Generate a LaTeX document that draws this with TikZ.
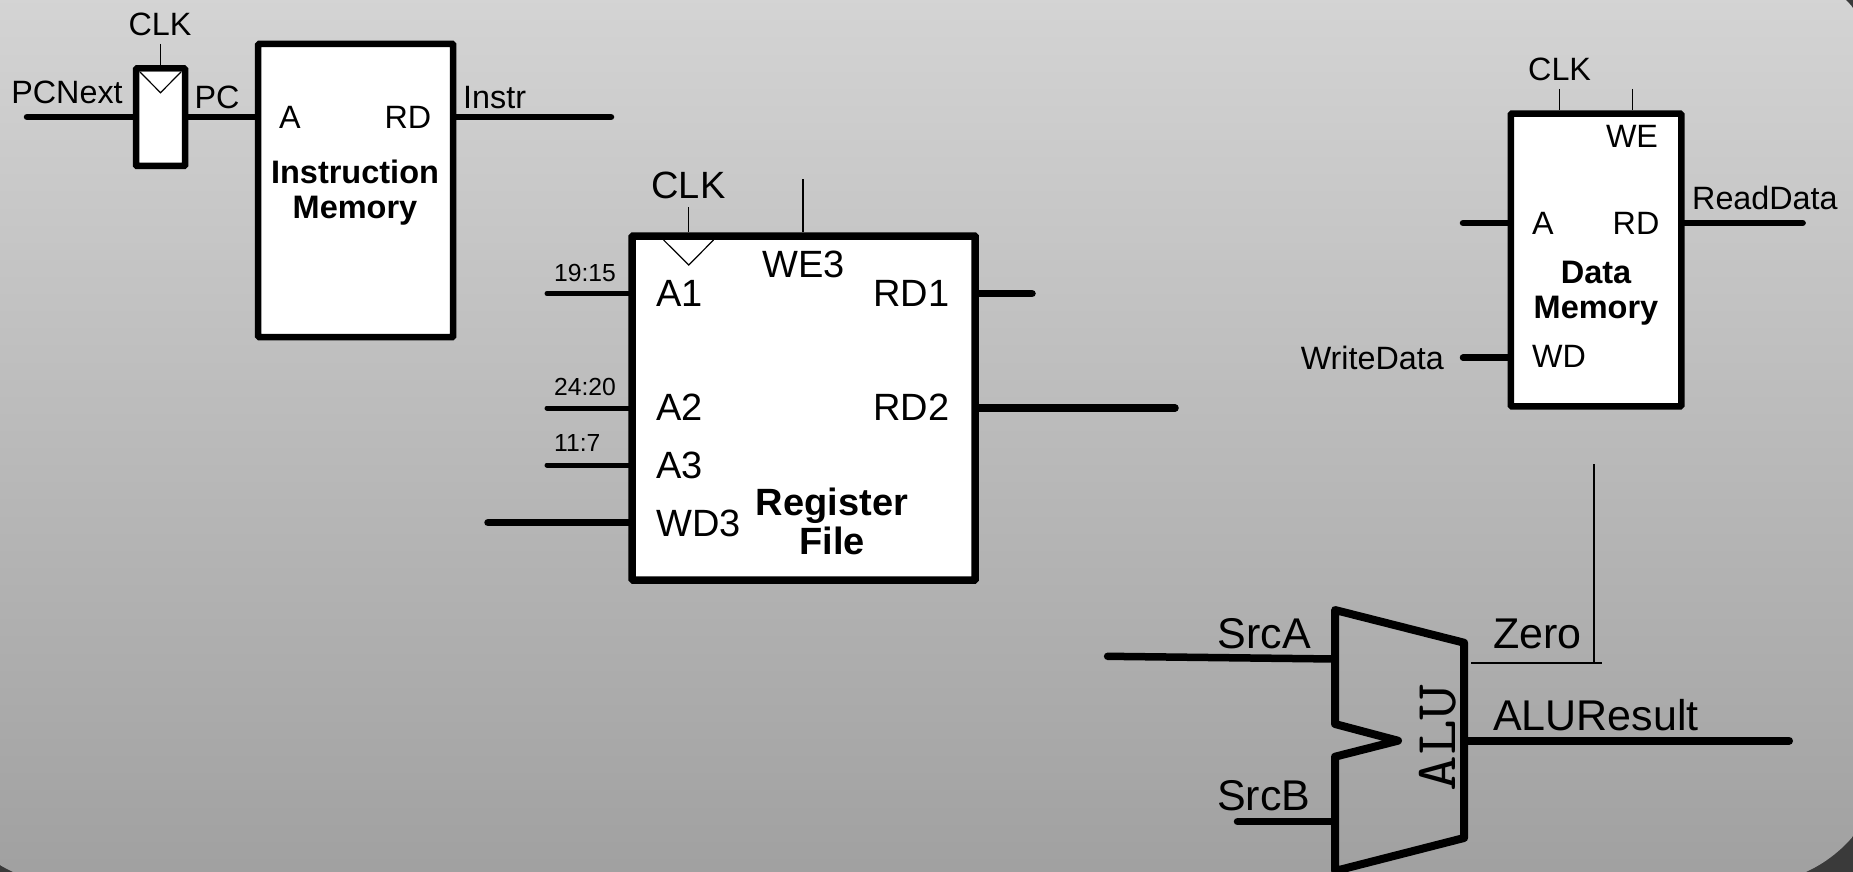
\documentclass[tikz,border=0pt]{standalone}
\usepackage{fontspec}
\setmainfont{Liberation Sans}
\usepackage{xcolor}
\usepackage{tikz}
\usetikzlibrary{positioning,calc}
\definecolor{fundoTopo}{HTML}{D6D6D6}
\definecolor{fundoBase}{HTML}{A0A0A0}
\definecolor{fundoCanto}{HTML}{3A3A3A}
\tikzset{
    bloco/.style={
        rectangle,
        draw=black,
        fill=white,
        line width=6.5pt,
        rounded corners=1pt,
        inner sep=0pt
    },
    rotulo/.style={inner sep=0pt, font=\fontsize{32.3}{35}\selectfont, align=center},
    rotuloGrande/.style={rotulo, font=\fontsize{38}{38}\selectfont},
    rotuloAlu/.style={rotulo, font=\fontsize{43}{44}\selectfont},
    rotuloPequeno/.style={rotulo, font=\fontsize{24.7}{26}\selectfont},
    titulo/.style={rotulo, font=\fontsize{32.5}{35}\selectfont\bfseries},
    tituloGrande/.style={rotulo, font=\fontsize{38}{39}\selectfont\bfseries},
    barramento/.style={line width=6.5pt, line cap=round},
    barramentoFino/.style={line width=5pt, line cap=round},
    barramentoGrosso/.style={line width=7.5pt, line cap=round},
    fio/.style={line width=1.2pt},
    relogio/.style={line width=1.2pt, fill=white}
}

\begin{document}
\begin{tikzpicture}[x=1pt, y=-1pt]
    \useasboundingbox (0,0) rectangle (1853,872);
    \fill[fundoCanto] (0,0) rectangle (1853,872);
    \shade[top color=fundoTopo, bottom color=fundoBase, rounded corners=135pt]
        (-66,-40) rectangle (1885,884);

    % caminho do PC
    \node[bloco, minimum width=49pt, minimum height=97.5pt] (pcreg) at (160.5,117.2) {};
    \node[bloco, minimum width=195pt, minimum height=293pt] (imem) at (355.7,190.5) {};
    \coordinate (pcnextIn) at (27,117);
    \coordinate (instrOut) at (611,117);
    \coordinate (pcClk) at (160.5,44);
    \draw[barramento] (pcnextIn) -- (pcnextIn -| pcreg.west);
    \draw[barramento] (pcreg.east |- pcnextIn) -- (pcnextIn -| imem.west);
    \draw[barramento] (imem.east |- instrOut) -- (instrOut);
    \draw[fio] (pcClk) -- (pcreg.north);
    \draw[relogio] (140,72) -- (160.5,92.7) -- (181,72);
    \node[rotulo] (pcclkTxt) at (160,24) {CLK};
    \node[rotulo] (pcnextTxt) at (67,92) {PCNext};
    \node[rotulo] (pcTxt) at (217,97) {PC};
    \node[rotulo, anchor=west] (instrTxt) at (463,98) {Instr};
    \node[rotulo] (imA) at (290,117) {A};
    \node[rotulo] (imRD) at (408,117) {RD};
    \node[titulo] (imTxt) at (355,193) {Instruction\\Memory};

    % banco de registradores
    \node[bloco, line width=7.5pt, minimum width=343pt, minimum height=344pt] (regfile) at (803.7,408) {};
    \coordinate (a1In) at (547,293.5);
    \coordinate (a2In) at (547,408);
    \coordinate (a3In) at (547,465);
    \coordinate (wd3In) at (488,522.7);
    \coordinate (rd1Out) at (1032,293.7);
    \coordinate (rd2Out) at (1175,408);
    \coordinate (rfClk) at (688.8,207);
    \coordinate (rfWe) at (803,179);
    \draw[barramentoFino] (a1In) -- (a1In -| regfile.west);
    \draw[barramentoFino] (a2In) -- (a2In -| regfile.west);
    \draw[barramentoFino] (a3In) -- (a3In -| regfile.west);
    \draw[barramentoGrosso] (wd3In) -- (wd3In -| regfile.west);
    \draw[barramentoGrosso] (regfile.east |- rd1Out) -- (rd1Out);
    \draw[barramentoGrosso] (regfile.east |- rd2Out) -- (rd2Out);
    \draw[fio] (rfClk) -- (rfClk |- regfile.north);
    \draw[fio] (rfWe) -- (rfWe |- regfile.north);
    \draw[relogio] (663.6,240) -- (688.8,265) -- (713.5,240);
    \node[rotuloGrande] (rfclkTxt) at (688.5,185) {CLK};
    \node[rotuloGrande] (we3Txt) at (803.5,264) {WE3};
    \node[rotuloGrande, anchor=west] (a1Txt) at (656,293) {A1};
    \node[rotuloGrande, anchor=west] (a2Txt) at (656,407) {A2};
    \node[rotuloGrande, anchor=west] (a3Txt) at (656,465) {A3};
    \node[rotuloGrande, anchor=west] (wd3Txt) at (656,523) {WD3};
    \node[rotuloGrande, anchor=west] (rd1Txt) at (873,293) {RD1};
    \node[rotuloGrande, anchor=west] (rd2Txt) at (873,407) {RD2};
    \node[rotuloPequeno] (a1Bits) at (585,272.5) {19:15};
    \node[rotuloPequeno] (a2Bits) at (585,387) {24:20};
    \node[rotuloPequeno, anchor=west] (a3Bits) at (554,443.5) {11:7};
    \node[tituloGrande] (rfTxt) at (832,521) {Register\\File};

    % memoria de dados
    \node[bloco, minimum width=170.5pt, minimum height=292.5pt] (dmem) at (1596,260) {};
    \coordinate (dmAIn) at (1463,223);
    \coordinate (dmWdIn) at (1463,357.7);
    \coordinate (dmOut) at (1802.6,223);
    \coordinate (dmClk) at (1559.6,89);
    \coordinate (dmWe) at (1632.7,89);
    \draw[barramento] (dmAIn) -- (dmAIn -| dmem.west);
    \draw[barramento] (dmWdIn) -- (dmWdIn -| dmem.west);
    \draw[barramento] (dmem.east |- dmOut) -- (dmOut);
    \draw[fio] (dmClk) -- (dmClk |- dmem.north);
    \draw[fio] (dmWe) -- (dmWe |- dmem.north);
    \node[rotulo] (dmclkTxt) at (1559.6,69.5) {CLK};
    \node[rotulo] (dmWeTxt) at (1632,136.5) {WE};
    \node[rotulo] (dmATxt) at (1543,223) {A};
    \node[rotulo] (dmRdTxt) at (1636,223) {RD};
    \node[rotulo, anchor=west] (dmWdTxt) at (1532,356.7) {WD};
    \node[titulo] (dmTxt) at (1596,293.5) {Data\\Memory};
    \node[rotulo, anchor=west] (readTxt) at (1692,198) {ReadData};
    \node[rotulo, anchor=east] (writeTxt) at (1444,358) {WriteData};

    % ALU
    \coordinate (aluA) at (1335,659);
    \coordinate (aluB) at (1335,821.7);
    \coordinate (aluY) at (1464,740.7);
    \coordinate (srcaIn) at (1107.6,656.3);
    \coordinate (srcbIn) at (1237.5,821.7);
    \coordinate (resOut) at (1789,740.7);
    \coordinate (zeroIn) at (1471,663);
    \coordinate (zeroEnd) at (1602,663);
    \coordinate (zeroUp) at (1594,464);
    \draw[barramentoGrosso] (srcaIn) -- (aluA);
    \draw[barramentoGrosso] (srcbIn) -- (aluB);
    \draw[barramentoGrosso, line width=8pt] (aluY) -- (resOut);
    \draw[line width=8pt, line join=round]
        (1335,610) -- (1464,642.7) -- (1464,838) -- (1335,871) -- (1335,756.7)
        -- (1398,740.7) -- (1335,724) -- cycle;
    \draw[fio] (zeroIn) -- (zeroEnd);
    \draw[fio] (zeroUp) -- (zeroUp |- zeroIn);
    \node[font=\fontsize{58}{58}\selectfont\ttfamily\addfontfeature{FakeBold=1.5}, rotate=90, xscale=1.2, inner sep=0pt] (alu) at (1438,738) {ALU};
    \node[rotuloAlu, anchor=east] (srcaTxt) at (1311,634) {SrcA};
    \node[rotuloAlu, anchor=east] (srcbTxt) at (1310.5,796) {SrcB};
    \node[rotuloAlu, anchor=west] (zeroTxt) at (1493,634) {Zero};
    \node[rotuloAlu, anchor=west] (resTxt) at (1493,715) {ALUResult};
\end{tikzpicture}
\end{document}
